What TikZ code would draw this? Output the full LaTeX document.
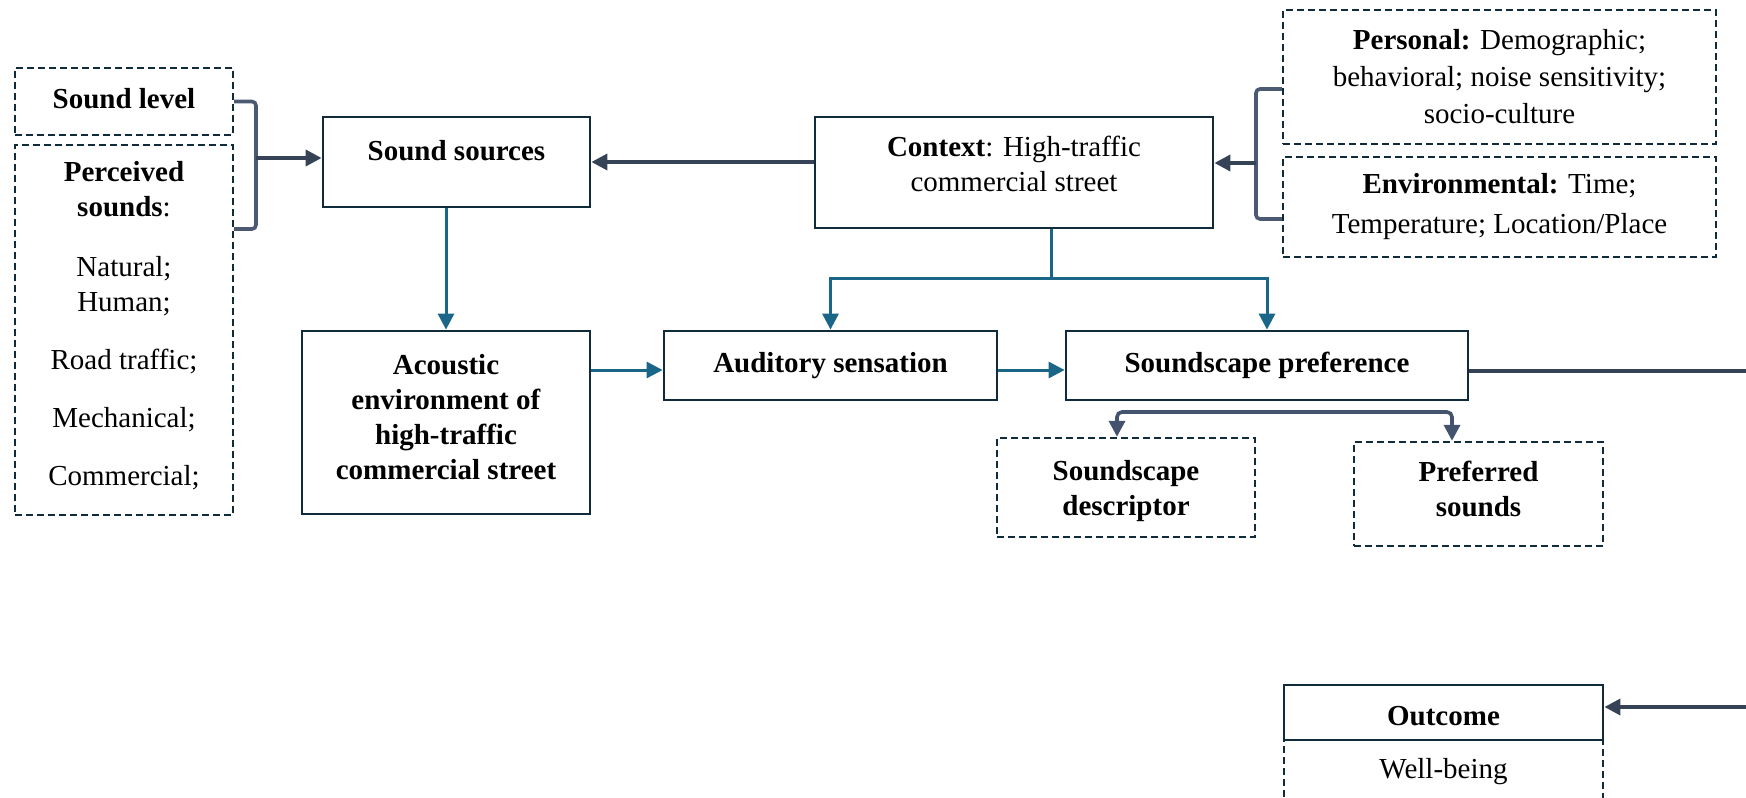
\documentclass[tikz,border=0pt]{standalone}
\usepackage{fontspec}
\setmainfont{Liberation Serif}
\usetikzlibrary{arrows.meta,calc}
\definecolor{boxc}{HTML}{102B3C}
\definecolor{bluec}{HTML}{1A6688}
\definecolor{grayc}{HTML}{364256}
\definecolor{brc}{HTML}{4B5A72}
\definecolor{forkc}{HTML}{44536D}
\begin{document}
\begin{tikzpicture}[x=1pt,y=-1pt,
  every node/.style={font=\fontsize{29}{35}\selectfont, inner sep=0pt, align=center, text=black},
  solidbox/.style={draw=boxc, line width=2.8pt, fill=white},
  dashbox/.style={draw=boxc, line width=2.4pt, dash pattern=on 7pt off 4pt, fill=white},
  bluearr/.style={draw=bluec, line width=3pt, -{Triangle[length=16pt,width=16pt]}},
  blueline/.style={draw=bluec, line width=3pt},
  grayarr/.style={draw=grayc, line width=3.6pt, -{Triangle[length=16pt,width=16pt]}},
  bracketline/.style={draw=brc, line width=3.6pt, rounded corners=4pt},
  forkarr/.style={draw=forkc, line width=3.6pt, rounded corners=5pt, {Triangle[length=16pt,width=16pt]}-{Triangle[length=16pt,width=16pt]}}
]
\useasboundingbox (0,0) rectangle (1746,798);
\clip (0,0) rectangle (1746,798);

% left column
\node[dashbox, minimum width=218pt, minimum height=67pt] (soundlevel) at (124,101.5) {\textbf{Sound level}\rule[-7pt]{0pt}{7pt}};
\node[dashbox, minimum width=218pt, minimum height=370pt] (perceived) at (124,330)
  {\textbf{Perceived}\\ \textbf{sounds}:\\[25pt] Natural;\\ Human;\\[23pt] Road traffic;\\[23pt] Mechanical;\\[23pt] Commercial;\\[-21pt]\mbox{}};

% main boxes
\node[solidbox, minimum width=267pt, minimum height=90pt] (sources) at (456.5,162) {\textbf{Sound sources}\\[-12pt]\mbox{}};
\node[solidbox, minimum width=288pt, minimum height=183pt] (acoustic) at (446,422.5)
  {\textbf{Acoustic}\\ \textbf{environment of}\\ \textbf{high-traffic}\\ \textbf{commercial street}\\[-23pt]\mbox{}};
\node[solidbox, minimum width=398pt, minimum height=111pt] (context) at (1014,172.5)
  {\textbf{Context}: High-traffic\\ commercial street\\[-17pt]\mbox{}};
\node[dashbox, minimum width=433pt, minimum height=134pt, font=\fontsize{29}{37}\selectfont] (personal) at (1499.5,77)
  {\textbf{Personal:} Demographic;\\ behavioral; noise sensitivity;\\ socio-culture};
\node[dashbox, minimum width=433pt, minimum height=100pt, font=\fontsize{29}{40}\selectfont] (environ) at (1499.5,207)
  {\textbf{Environmental:} Time;\\ Temperature; Location/Place};
\node[solidbox, minimum width=333pt, minimum height=69pt] (auditory) at (830.5,365.5) {\textbf{Auditory sensation}};
\node[solidbox, minimum width=402pt, minimum height=69pt] (pref) at (1267,365.5) {\textbf{Soundscape preference}};
\node[dashbox, minimum width=258pt, minimum height=99pt] (descriptor) at (1126,487.5) {\rule{0pt}{27pt}\textbf{Soundscape}\\ \textbf{descriptor}};
\node[dashbox, minimum width=249pt, minimum height=104pt] (preferred) at (1478.5,494) {\textbf{Preferred}\\ \textbf{sounds}\\[-25pt]\mbox{}};
\node[dashbox, minimum width=319pt, minimum height=60pt] (wellbeing) at (1443.5,770) {\rule{0pt}{24pt}Well-being};
\node[solidbox, minimum width=319pt, minimum height=55pt] (outcome) at (1443.5,712.5) {\rule{0pt}{27pt}\textbf{Outcome}};

% junction coordinates
\coordinate (lb) at (256,158);
\coordinate (rb) at (1256,163);
\coordinate (cs) at (1051,278);
\coordinate (mid) at (0,370);
\coordinate (rc1) at (1765,371);
\coordinate (rc2) at (1765,707);
\coordinate (fl) at (1117,412);
\coordinate (fr) at (1452,412);

% left bracket
\draw[bracketline] (soundlevel.east) -- (soundlevel.east -| lb) -- (lb |- 0,229) -- (perceived.east |- 0,229);
\draw[grayarr] (lb) -- (lb -| sources.west);

% right bracket
\draw[bracketline] (personal.west |- 0,89) -- (rb |- 0,89) -- (rb |- 0,219) -- (personal.west |- 0,219);
\draw[grayarr] (rb) -- (rb -| context.east);

% context -> sources
\draw[grayarr] (sources.east -| context.west) -- (sources.east);

% sources -> acoustic
\draw[bluearr] (sources.south -| acoustic.north) -- (acoustic.north);

% context stem
\draw[blueline] (context.south -| cs) -- (cs);
\draw[bluearr] (cs) -| (auditory.north);
\draw[bluearr] (cs) -| (pref.north);

% chain
\draw[bluearr] (acoustic.east |- mid) -- (auditory.west |- mid);
\draw[bluearr] (auditory.east |- mid) -- (pref.west |- mid);

% fork
\draw[forkarr] (descriptor.north -| fl) -- (fl) -- (fr) -- (preferred.north -| fr);

% to outcome
\draw[grayarr] (pref.east |- rc1) -- (rc1) -- (rc2) -- (rc2 -| outcome.east);
\end{tikzpicture}
\end{document}
